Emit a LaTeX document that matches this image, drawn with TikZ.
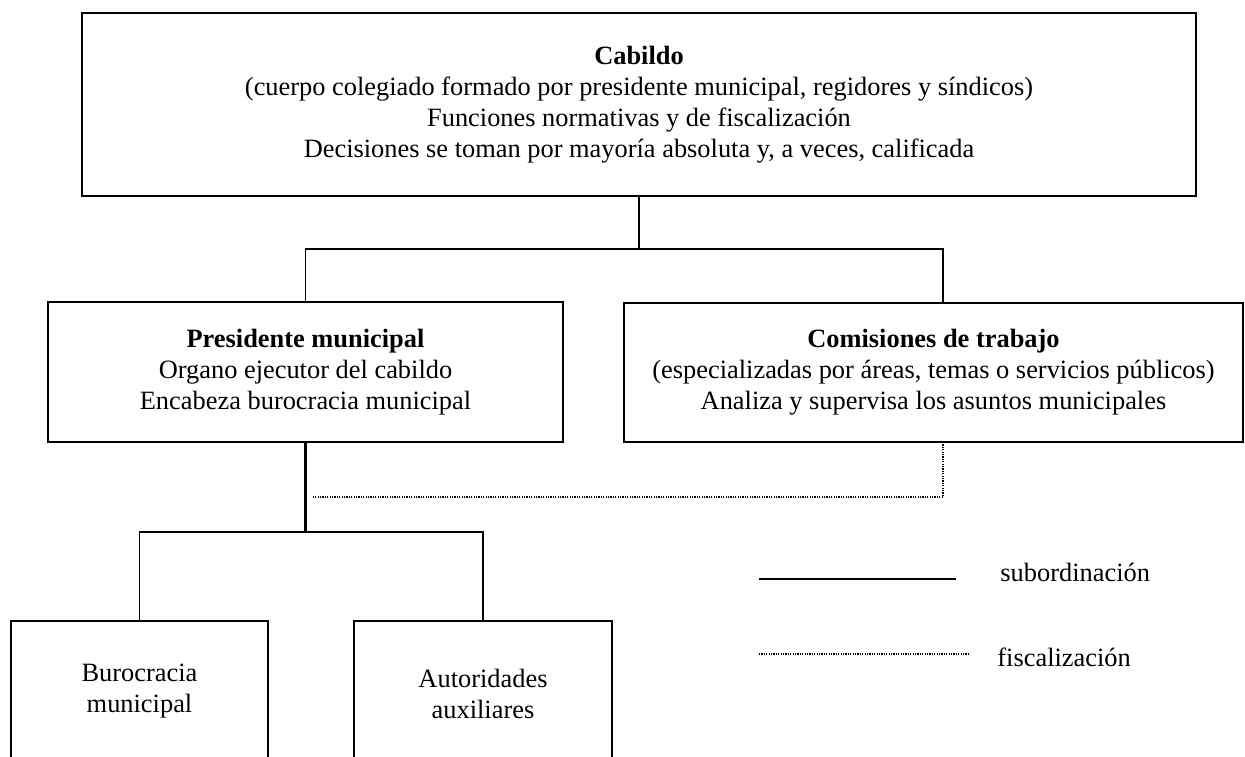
\documentclass[tikz,border=0pt]{standalone}
\usepackage{fontspec}
\setmainfont{Liberation Serif}
\begin{document}
\begin{tikzpicture}[x=0.5pt,y=-0.5pt,
		caja/.style={draw,line width=0.7pt,inner sep=0pt,outer sep=0pt,anchor=north west,align=center,font=\fontsize{13.2}{15.5}\selectfont},
		sub/.style={line width=0.6pt},
		fisc/.style={line width=0.6pt,dash pattern=on 0.6pt off 0.6pt},
		leyenda/.style={anchor=base west,inner sep=0pt,font=\fontsize{13.2}{15.5}\selectfont}]
		\useasboundingbox (0,0) rectangle (1245,756);

		\node[caja,minimum width=557pt,minimum height=91.5pt] (cabildo) at (82,13)
			{\textbf{Cabildo}\\(cuerpo colegiado formado por presidente municipal, regidores y síndicos)\\Funciones normativas y de fiscalización\\Decisiones se toman por mayoría absoluta y, a veces, calificada};
		\node[caja,minimum width=257.5pt,minimum height=70pt] (presidente) at (48,302)
			{\textbf{Presidente municipal}\\Organo ejecutor del cabildo\\Encabeza burocracia municipal};
		\node[caja,minimum width=309.5pt,minimum height=69.5pt] (comisiones) at (624,303)
			{\textbf{Comisiones de trabajo}\\(especializadas por áreas, temas o servicios públicos)\\Analiza y supervisa los asuntos municipales};
		\node[caja,minimum width=128.5pt,minimum height=70pt] (burocracia) at (11,621)
			{Burocracia\\municipal};
		\node[caja,minimum width=129pt,minimum height=73pt] (autoridades) at (354,621)
			{Autoridades\\auxiliares};

		\coordinate (rama1) at (639,249);
		\coordinate (rama1d) at (943,249);
		\coordinate (rama2) at (305.5,532);
		\coordinate (fisc1) at (943,497);
		\coordinate (fisc2) at (312,497);

		\draw[sub] (cabildo.south) -- (rama1);
		\draw[sub] (presidente.north) |- (rama1d) -- (rama1d |- comisiones.north);
		\draw[line width=1.1pt] (presidente.south) -- (rama2);
		\draw[sub] (burocracia.north) |- (rama2) -| (autoridades.north);
		\draw[fisc] (fisc1 |- comisiones.south) -- (fisc1) -- (fisc2);

		%leyenda
		\draw[line width=1pt] (759,579) -- (956,579);
		\node[leyenda] (subleg) at (1000,581) {subordinación};
		\draw[fisc] (759,654) -- (968,654);
		\node[leyenda] (fiscleg) at (997,666) {fiscalización};
	\end{tikzpicture}
\end{document}
